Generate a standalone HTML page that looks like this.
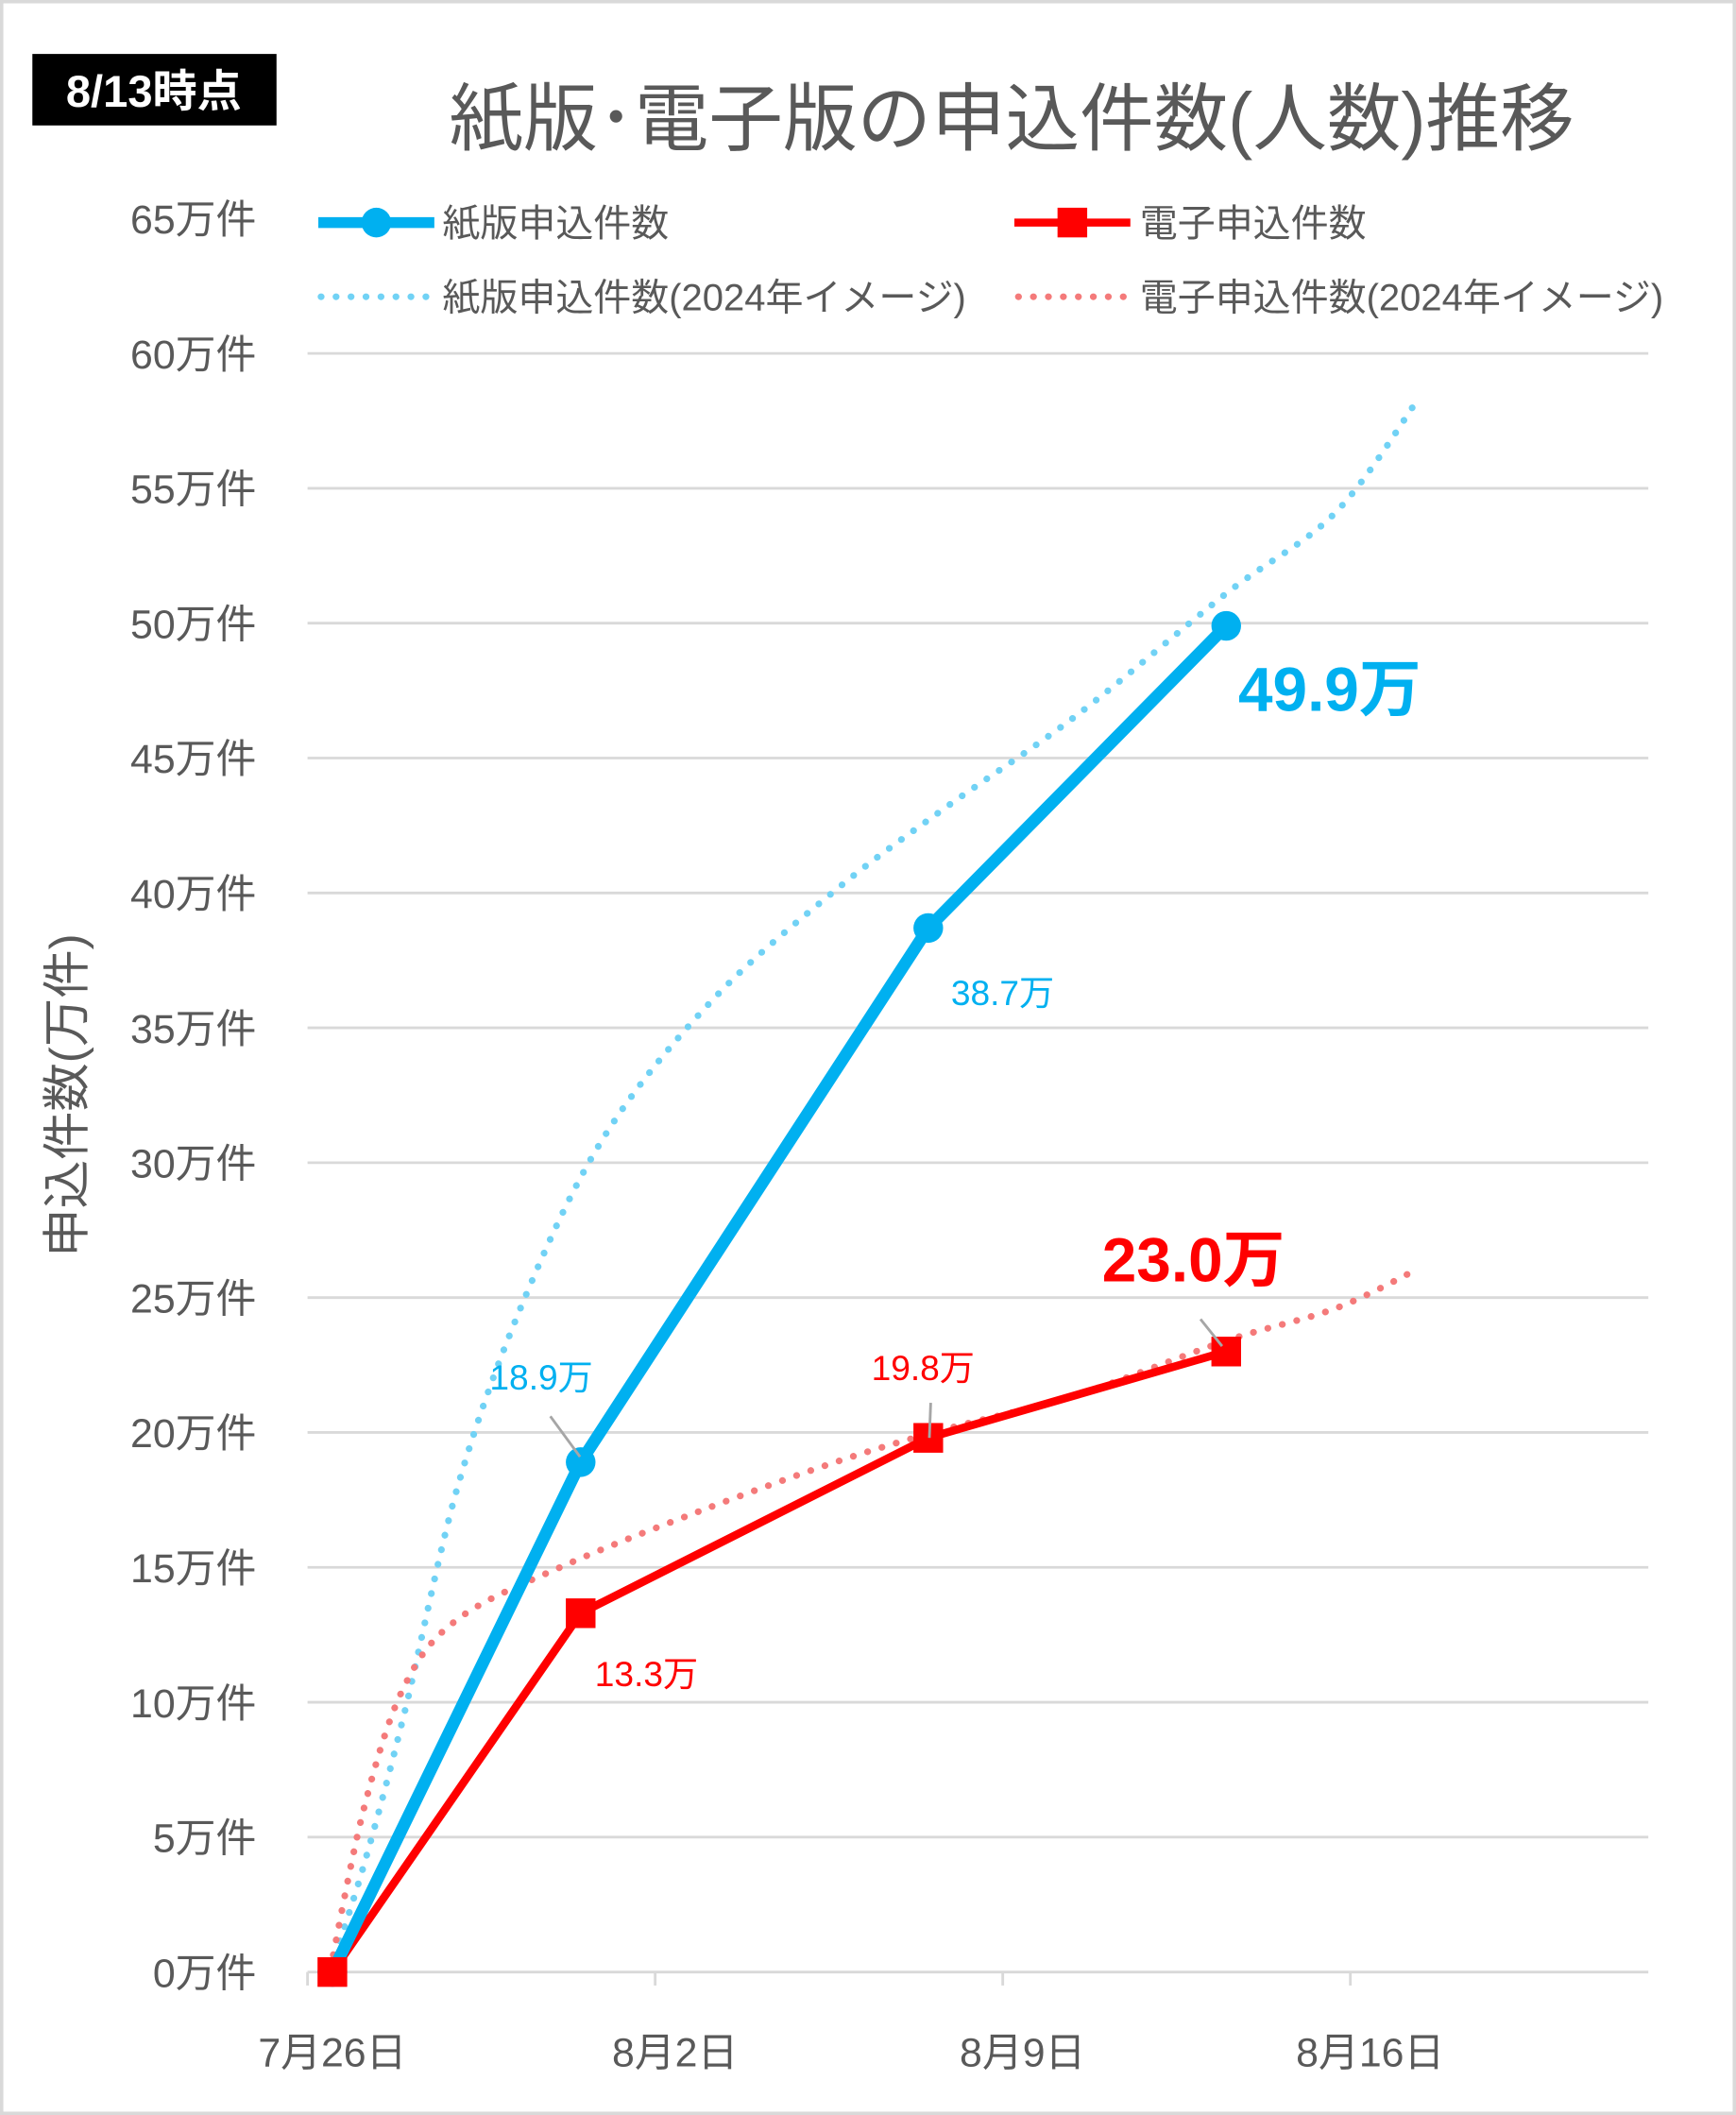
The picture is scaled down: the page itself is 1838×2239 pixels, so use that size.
<!DOCTYPE html>
<html><head><meta charset="utf-8"><style>
html,body{margin:0;padding:0;background:#fff;}
svg{display:block;}
text{font-family:"Liberation Sans","Noto Sans CJK JP",sans-serif;}
</style></head><body>
<svg id="chart" width="1838" height="2239" viewBox="0 0 1287 1568" preserveAspectRatio="none" xmlns="http://www.w3.org/2000/svg">
<rect x="1" y="1" width="1285" height="1566" fill="#fff" stroke="#d9d9d9" stroke-width="3"/>
<rect x="24" y="40" width="181" height="53" fill="#000"/>
<text x="114" y="79" fill="#fff" font-size="33" font-weight="bold" text-anchor="middle">8/13時点</text>
<text x="750" y="107" fill="#595959" font-size="55" text-anchor="middle">紙版･電子版の申込件数(人数)推移</text>
<g id="legend">
<line x1="236" y1="165" x2="322" y2="165" stroke="#00b0f0" stroke-width="8"/>
<circle cx="279" cy="165" r="11" fill="#00b0f0"/>
<text x="328" y="175" fill="#595959" font-size="28">紙版申込件数</text>
<line x1="752" y1="165" x2="838" y2="165" stroke="#ff0000" stroke-width="6"/>
<rect x="784" y="154" width="22" height="22" fill="#ff0000"/>
<text x="845" y="175" fill="#595959" font-size="28">電子申込件数</text>
<line x1="238" y1="220" x2="322" y2="220" stroke="#71d2f5" stroke-width="5" stroke-dasharray="0.1 11" stroke-linecap="round"/>
<text x="328" y="230" fill="#595959" font-size="28">紙版申込件数(2024年イメージ)</text>
<line x1="755" y1="220" x2="838" y2="220" stroke="#f47a7a" stroke-width="5" stroke-dasharray="0.1 11" stroke-linecap="round"/>
<text x="845" y="230" fill="#595959" font-size="28">電子申込件数(2024年イメージ)</text>
</g>
<text transform="translate(62,812) rotate(-90)" fill="#595959" font-size="36" text-anchor="middle">申込件数(万件)</text>
<g id="grid"></g><g id="axes"></g><g id="series"></g><g id="labels"></g>
</svg>
<script>
const yTicks=[0,5,10,15,20,25,30,35,40,45,50,55,60,65];
const xTickLabels=["7月26日","8月2日","8月9日","8月16日"];
const xTickDays=[0,7,14,21];
const pointDays=[0.5,5.5,12.5,18.5];
const paperValues=[0,18.9,38.7,49.9];
const digitalValues=[0,13.3,19.8,23.0];
const paper2024Days=[0.46,1.14,1.95,3.04,4.4,6.02,8.19,10.63,12.8,15.5,18.5,20.7,22.4];
const paper2024Values=[0.1,4,9.6,18.1,25.1,31.1,36.1,40.1,43.1,46.6,51.1,54.1,58.4];
const digital2024Days=[0.46,1.14,1.95,3.04,5.21,7.92,10.63,12.8,15.5,18.5,20.7,22.4];
const digital2024Values=[0.1,6.1,10.6,13.1,15.1,17.1,18.9,20.1,21.4,23.4,24.6,26.1];

const NS="http://www.w3.org/2000/svg";
const X0=228,X1=1222,DMAX=27,Y0=1462,YPER=20;
const xs=d=>X0+(X1-X0)*d/DMAX;
const ys=v=>Y0-v*YPER;
function mk(tag,attrs,parent,txt){const e=document.createElementNS(NS,tag);for(const k in attrs)e.setAttribute(k,attrs[k]);if(txt!==undefined)e.textContent=txt;document.getElementById(parent).appendChild(e);return e;}

yTicks.forEach(v=>{
  if(v>0&&v<=60){const g=mk('line',{x1:X0,x2:X1,y1:ys(v),y2:ys(v),stroke:'#d9d9d9','stroke-width':2},'grid');
  
  }
  const t=mk('text',{x:190,y:ys(v)+11,'text-anchor':'end','font-size':30,fill:'#595959'},'axes',v+'万件');
  
  
});
const ax=mk('line',{x1:X0,x2:X1,y1:Y0,y2:Y0,stroke:'#d9d9d9','stroke-width':2},'axes');


xTickDays.forEach((d,i)=>{
  const tk=mk('line',{x1:xs(d),x2:xs(d),y1:Y0,y2:Y0+10,stroke:'#d9d9d9','stroke-width':2},'axes');
  
  
  const t=mk('text',{x:i==0?xs(d+0.5):xs(d+0.4),y:1532,'text-anchor':'middle','font-size':30,fill:'#595959'},'axes',xTickLabels[i]);
  
  
});
function smooth(ds,vs){const p=ds.map((d,i)=>[xs(d),ys(vs[i])]);let s='M'+p[0][0]+','+p[0][1];
  for(let i=0;i<p.length-1;i++){const a=p[Math.max(i-1,0)],b=p[i],c=p[i+1],d=p[Math.min(i+2,p.length-1)];
  s+=' C'+(b[0]+(c[0]-a[0])/6)+','+(b[1]+(c[1]-a[1])/6)+' '+(c[0]-(d[0]-b[0])/6)+','+(c[1]-(d[1]-b[1])/6)+' '+c[0]+','+c[1];}return s;}
const pd=mk('path',{d:smooth(paper2024Days,paper2024Values),fill:'none',stroke:'#71d2f5','stroke-width':5,'stroke-dasharray':'0.1 11','stroke-linecap':'round'},'series');


const dd=mk('path',{d:smooth(digital2024Days,digital2024Values),fill:'none',stroke:'#f47a7a','stroke-width':5,'stroke-dasharray':'0.1 11','stroke-linecap':'round'},'series');


const dl=mk('polyline',{points:pointDays.map((d,i)=>xs(d)+','+ys(digitalValues[i])).join(' '),fill:'none',stroke:'#ff0000','stroke-width':6},'series');


const pl=mk('polyline',{points:pointDays.map((d,i)=>xs(d)+','+ys(paperValues[i])).join(' '),fill:'none',stroke:'#00b0f0','stroke-width':9},'series');


pointDays.forEach((d,i)=>{
  const c=mk('circle',{cx:xs(d),cy:ys(paperValues[i]),r:11,fill:'#00b0f0'},'series');
  
  
  const r=mk('rect',{x:xs(d)-11,y:ys(digitalValues[i])-11,width:22,height:22,fill:'#ff0000'},'series');
  
  
});
function lbl(x,y,txt,col,size,bold,name){const t=mk('text',{x:x,y:y,fill:col,'font-size':size,'font-weight':bold?'bold':'normal'},'labels',txt);
  
  }
function lead(x1,y1,x2,y2){const l=mk('line',{x1:x1,y1:y1,x2:x2,y2:y2,stroke:'#a6a6a6','stroke-width':2},'labels');
  
  }
lead(408,1050,430,1080);lead(690,1040,689,1066);lead(890,978,906,998);
lbl(918,527,paperValues[3].toFixed(1)+'万','#00b0f0',46,true,'label-paper-latest');
lbl(705,745,paperValues[2].toFixed(1)+'万','#00b0f0',26,false,'label-paper-8-7');
lbl(363,1030,paperValues[1].toFixed(1)+'万','#00b0f0',26,false,'label-paper-7-31');
lbl(817,950,digitalValues[3].toFixed(1)+'万','#ff0000',46,true,'label-digital-latest');
lbl(646,1023,digitalValues[2].toFixed(1)+'万','#ff0000',26,false,'label-digital-8-7');
lbl(441,1250,digitalValues[1].toFixed(1)+'万','#ff0000',26,false,'label-digital-7-31');
</script>
</body></html>
